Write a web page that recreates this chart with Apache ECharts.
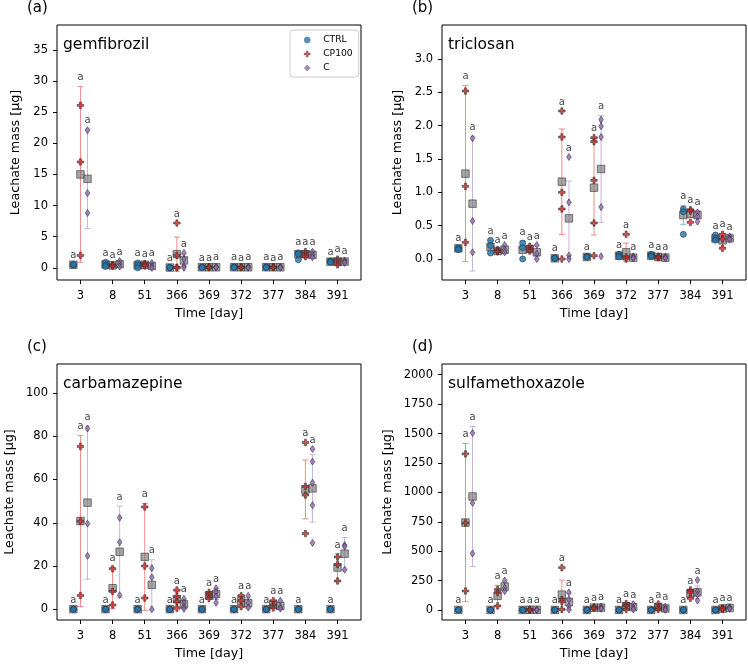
<!DOCTYPE html>
<html><head><meta charset="utf-8">
<script src="https://cdn.jsdelivr.net/npm/echarts@6/dist/echarts.min.js"></script>
<style>html,body{margin:0;padding:0;background:#fff}#c{width:748px;height:664px}</style>
</head><body><div id="c"></div>
<script>
// ---------- data ----------
const days = ['3','8','51','366','369','372','377','384','391'];
const groups = ['CTRL','CP100','C'];
const panelNames = ['gemfibrozil','triclosan','carbamazepine','sulfamethoxazole'];
const panelLetters = ['(a)','(b)','(c)','(d)'];
const yTicksA = [0,5,10,15,20,25,30,35];
const yTicksB = [0,0.5,1.0,1.5,2.0,2.5,3.0];
const yTicksC = [0,20,40,60,80,100];
const yTicksD = [0,250,500,750,1000,1250,1500,1750,2000];
const sigLetter = 'a';

// (a) gemfibrozil
const gemPtsCTRL = [[0.5,0.45,0.55],[0.9,0.5,0.2],[0.8,0.4,0.0],[0.1,0.0,0.05],[0.15,0.1,0.05],[0.2,0.1,0.05],[0.2,0.1,0.05],[2.4,2.2,1.3],[1.1,1.0,0.9]];
const gemMeanCTRL = [0.5,0.55,0.4,0.05,0.1,0.1,0.1,2.2,1.0];
const gemErrCTRL = [0.05,0.3,0.35,0.05,0.05,0.05,0.05,0.5,0.1];
const gemPtsCP100 = [[26.1,17.0,2.0],[0.5,0.35,0.3],[0.7,0.5,0.3],[7.2,2.0,0.1,0.0],[0.15,0.1,0.05],[0.15,0.1,0.05],[0.15,0.1,0.05],[2.6,2.2,1.8],[1.4,1.0,0.5]];
const gemMeanCP100 = [15.0,0.4,0.5,2.2,0.1,0.1,0.1,2.2,1.0];
const gemErrCP100 = [14.1,0.1,0.2,2.75,0.05,0.05,0.05,0.4,0.45];
const gemPtsC = [[22.1,12.0,8.8],[1.1,0.6,0.2],[0.8,0.3,0.0],[2.4,1.4,0.3,0.0],[0.2,0.1,0.05],[0.2,0.1,0.0],[0.2,0.1,0.0],[2.6,2.1,1.7],[1.2,1.0,0.8]];
const gemMeanC = [14.3,0.6,0.3,1.2,0.1,0.1,0.1,2.1,1.0];
const gemErrC = [8.0,0.45,0.4,1.0,0.05,0.05,0.05,0.4,0.2];

// (b) triclosan
const triPtsCTRL = [[0.17,0.15,0.14],[0.28,0.2,0.09],[0.24,0.17,0.0],[0.02,0.01,0.01],[0.04,0.03,0.03],[0.07,0.05,0.03],[0.07,0.05,0.04],[0.75,0.71,0.37],[0.36,0.31,0.28]];
const triMeanCTRL = [0.16,0.18,0.14,0.01,0.03,0.05,0.05,0.66,0.31];
const triErrCTRL = [0.02,0.1,0.13,0.01,0.01,0.02,0.02,0.14,0.04];
const triPtsCP100 = [[2.52,1.09,0.25],[0.14,0.12,0.11],[0.19,0.15,0.12],[2.22,1.83,1.0,0.75,0.0],[1.82,1.76,1.18,0.54,0.05],[0.37,0.03,0.0],[0.04,0.03,0.02],[0.74,0.72,0.55],[0.37,0.3,0.16]];
const triMeanCP100 = [1.28,0.12,0.15,1.16,1.07,0.1,0.03,0.68,0.28];
const triErrCP100 = [1.32,0.02,0.04,0.79,0.71,0.14,0.01,0.06,0.1];
const triPtsC = [[1.81,0.57,0.10],[0.21,0.14,0.1],[0.21,0.08,0.0],[1.53,0.85,0.05,0.0],[2.09,1.99,1.83,0.78,0.04],[0.04,0.02,0.01],[0.04,0.02,0.01],[0.70,0.64,0.56],[0.34,0.31,0.29]];
const triMeanC = [0.83,0.14,0.1,0.61,1.35,0.02,0.02,0.66,0.31];
const triErrC = [1.01,0.05,0.1,0.56,0.8,0.01,0.01,0.06,0.03];

// (c) carbamazepine
const carPtsCTRL = [[0.1,0.05,0],[0.1,0.05,0],[0.1,0.05,0],[0.1,0.05,0],[0.1,0.05,0],[0.1,0.05,0],[0.1,0.05,0],[0.1,0.05,0],[0.1,0.05,0]];
const carMeanCTRL = [0.05,0.05,0.05,0.05,0.05,0.05,0.05,0.05,0.05];
const carErrCTRL = [0.05,0.05,0.05,0.05,0.05,0.05,0.05,0.05,0.05];
const carPtsCP100 = [[75.3,40.7,6.4],[18.7,8.3,2.0],[47.3,20.0,5.2],[8.9,5.8,3.5,0.5],[7.8,6.5,5.0],[6.3,4.0,1.2],[4.0,2.0,0.6],[77.1,56.8,52.8,35.0],[24.2,20.7,13.1]];
const carMeanCP100 = [40.8,9.7,24.2,4.7,6.4,4.0,2.2,55.4,19.3];
const carErrCP100 = [39.5,9.5,24.7,3.4,1.2,2.5,1.5,13.6,6.3];
const carPtsC = [[83.6,39.6,24.7],[42.3,31.0,6.5],[19.0,14.8,0.0],[4.8,3.0,1.2,0.2],[9.7,8.0,6.0,3.0],[6.2,3.0,0.8],[4.0,1.0,0.3],[74.1,68.3,58.5,48.1,30.7],[29.7,29.0,18.3]];
const carMeanC = [49.3,26.6,11.3,2.3,7.0,2.8,1.6,55.9,25.7];
const carErrC = [35.4,21.1,11.6,2.0,2.5,2.5,1.5,15.6,7.5];

// (d) sulfamethoxazole
const sulPtsCTRL = [[1,0.5,0],[1,0.5,0],[1,0.5,0],[1,0.5,0],[1,0.5,0],[1,0.5,0],[1,0.5,0],[1,0.5,0],[1,0.5,0]];
const sulMeanCTRL = [0.5,0.5,0.5,0.5,0.5,0.5,0.5,0.5,0.5];
const sulErrCTRL = [0.5,0.5,0.5,0.5,0.5,0.5,0.5,0.5,0.5];
const sulPtsCP100 = [[1327,740,162],[175,150,35],[5,2,0],[360,90,70,5],[25,20,15],[55,35,5],[50,20,5],[170,150,100],[20,10,5]];
const sulMeanCP100 = [743,120,2,131,20,32,25,140,12];
const sulErrCP100 = [672,90,2,123,5,20,20,30,6];
const sulPtsC = [[1505,910,480],[250,190,160],[5,2,0],[150,90,30,5],[30,20,10],[50,20,5],[30,10,0],[255,160,130,80],[25,20,10]];
const sulMeanC = [965,200,2,69,20,25,13,150,18];
const sulErrC = [595,40,2,70,8,20,12,55,6];

// ---------- layout & style ----------
const FONT = 'DejaVu Sans';
const gridBoxes = [
  {left:57, top:25, width:304, height:255},
  {left:442, top:25, width:304, height:255},
  {left:57, top:364, width:304, height:256},
  {left:442, top:364, width:304, height:256}
];
const yRanges = [[-1.95,39.0],[-0.315,3.51],[-4.95,113.4],[-85,2091]];
const yNameGaps = [35, 38, 41, 48];
const xRange = [-0.73, 8.73];
const offsets = [-0.22, 0, 0.22];
const plusPath = 'path://M3.5,0H6.5V3.5H10V6.5H6.5V10H3.5V6.5H0V3.5H3.5Z';
const symbols = ['circle', plusPath, 'diamond'];
const symbolSizes = [6, 6.5, [4.5,7]];
const pointColors = ['rgba(31,119,180,0.8)','rgba(214,39,40,0.8)','rgba(148,103,189,0.8)'];
const legendColors = ['#4a93c6','#de5253','#a98aca'];
const errColors = ['#7fbfc4','#f08a8a','#c9b3dd'];

const panelData = [
  {pts:[gemPtsCTRL,gemPtsCP100,gemPtsC], mean:[gemMeanCTRL,gemMeanCP100,gemMeanC], err:[gemErrCTRL,gemErrCP100,gemErrC], ticks:yTicksA, dec:0},
  {pts:[triPtsCTRL,triPtsCP100,triPtsC], mean:[triMeanCTRL,triMeanCP100,triMeanC], err:[triErrCTRL,triErrCP100,triErrC], ticks:yTicksB, dec:1},
  {pts:[carPtsCTRL,carPtsCP100,carPtsC], mean:[carMeanCTRL,carMeanCP100,carMeanC], err:[carErrCTRL,carErrCP100,carErrC], ticks:yTicksC, dec:0},
  {pts:[sulPtsCTRL,sulPtsCP100,sulPtsC], mean:[sulMeanCTRL,sulMeanCP100,sulMeanC], err:[sulErrCTRL,sulErrCP100,sulErrC], ticks:yTicksD, dec:0}
];

function errRender(params, api){
  const x = api.value(0), m = api.value(1), e = api.value(2);
  const p1 = api.coord([x, m - e]), p2 = api.coord([x, m + e]);
  const w = 3;
  const style = {stroke: api.visual('color'), lineWidth: 1};
  return {type:'group', children:[
    {type:'line', shape:{x1:p1[0], y1:p1[1], x2:p2[0], y2:p2[1]}, style},
    {type:'line', shape:{x1:p1[0]-w, y1:p1[1], x2:p1[0]+w, y2:p1[1]}, style},
    {type:'line', shape:{x1:p2[0]-w, y1:p2[1], x2:p2[0]+w, y2:p2[1]}, style}
  ]};
}

const grids = [], xAxes = [], yAxes = [], series = [], graphics = [];
const catIdx = days.map((d,i)=>i);

panelData.forEach((P, p) => {
  grids.push(Object.assign({show:true, borderColor:'#000', borderWidth:1, containLabel:false}, gridBoxes[p]));
  xAxes.push({
    type:'value', gridIndex:p, min:xRange[0], max:xRange[1], position:'bottom',
    name:'Time [day]', nameLocation:'middle', nameGap:27,
    nameTextStyle:{fontFamily:FONT, fontSize:12.7, color:'#000'},
    axisLine:{show:false, onZero:false},
    axisTick:{show:true, customValues:catIdx, length:4, lineStyle:{color:'#000'}},
    axisLabel:{show:true, customValues:catIdx, formatter:v => days[Math.round(v)], margin:10,
      fontFamily:FONT, fontSize:11.5, color:'#000'},
    splitLine:{show:false}
  });
  yAxes.push({
    type:'value', gridIndex:p, min:yRanges[p][0], max:yRanges[p][1], position:'left',
    name:'Leachate mass [µg]', nameLocation:'middle', nameGap:yNameGaps[p], nameRotate:90,
    nameTextStyle:{fontFamily:FONT, fontSize:12.7, color:'#000'},
    axisLine:{show:false, onZero:false},
    axisTick:{show:true, customValues:P.ticks, length:4, lineStyle:{color:'#000'}},
    axisLabel:{show:true, customValues:P.ticks, formatter:v => Number(v).toFixed(P.dec), margin:9,
      fontFamily:FONT, fontSize:11.5, color:'#000'},
    splitLine:{show:false}
  });
  groups.forEach((g, k) => {
    const off = offsets[k];
    series.push({
      type:'custom', xAxisIndex:p, yAxisIndex:p, z:1, silent:true,
      itemStyle:{color:errColors[k]}, renderItem:errRender,
      data: catIdx.map(i => [i + off, P.mean[k][i], P.err[k][i]])
    });
    series.push({
      type:'scatter', xAxisIndex:p, yAxisIndex:p, z:2, silent:true,
      symbol:'rect', symbolSize:7.5,
      itemStyle:{color:'rgba(125,125,125,0.85)', borderColor:'#3a3a3a', borderWidth:0.8},
      data: catIdx.map(i => [i + off, P.mean[k][i]])
    });
    const pts = [];
    catIdx.forEach(i => P.pts[k][i].forEach(v => pts.push([i + off, v])));
    series.push({
      type:'scatter', name:g, xAxisIndex:p, yAxisIndex:p, z:3, silent:true,
      symbol:symbols[k], symbolSize:symbolSizes[k],
      itemStyle:{color:pointColors[k], borderColor:'#333', borderWidth:0.6, opacity:1},
      data: pts
    });
    series.push({
      type:'scatter', xAxisIndex:p, yAxisIndex:p, z:4, silent:true,
      symbolSize:0.01, itemStyle:{color:'transparent'},
      label:{show:true, position:'top', distance:4, formatter:sigLetter,
        fontFamily:FONT, fontSize:10, color:'#111'},
      data: catIdx.map(i => [i + off, Math.max(Math.max(...P.pts[k][i]), P.mean[k][i] + P.err[k][i])])
    });
  });
  const b = gridBoxes[p];
  graphics.push({type:'text', left:b.left + 6, top:b.top + 12, silent:true,
    style:{text:panelNames[p], font:'15.5px "DejaVu Sans"', fill:'#000'}});
  graphics.push({type:'text', left:b.left - 30, top:b.top - 24, silent:true,
    style:{text:panelLetters[p], font:'15px "DejaVu Sans"', fill:'#000'}});
});

const legendIcons = ['circle', plusPath, 'diamond'];
const chart = echarts.init(document.getElementById('c'), null, {renderer:'canvas'});
chart.setOption({
  animation:false,
  backgroundColor:'#fff',
  graphic: graphics,
  grid: grids,
  xAxis: xAxes,
  yAxis: yAxes,
  legend: {
    data: groups.map((g,k) => ({name:g, icon:legendIcons[k],
      itemStyle:{color:legendColors[k], borderColor:'#555', borderWidth:0.4}})),
    orient:'vertical', left:290, top:30,
    padding:[4,6,3,14], itemGap:2, itemWidth:6, itemHeight:6,
    backgroundColor:'#fff', borderColor:'#cccccc', borderWidth:1, borderRadius:3,
    selectedMode:false,
    textStyle:{fontFamily:FONT, fontSize:9.2, color:'#000', lineHeight:12, padding:[0,0,0,8]}
  },
  series: series
});
</script>
</body></html>
